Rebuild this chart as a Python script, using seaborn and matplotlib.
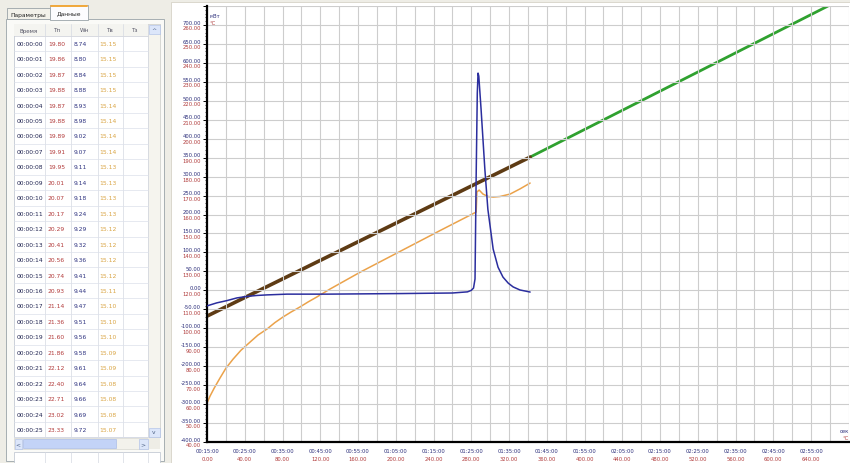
import numpy as np
import pandas as pd
import matplotlib
matplotlib.use("Agg")
import matplotlib.pyplot as plt
from matplotlib.patches import Rectangle
from matplotlib.lines import Line2D
import seaborn as sns

# ---------------- data ----------------
# table (left panel)
row_times = ["00:00:00", "00:00:01", "00:00:02", "00:00:03", "00:00:04", "00:00:05",
             "00:00:06", "00:00:07", "00:00:08", "00:00:09", "00:00:10", "00:00:11",
             "00:00:12", "00:00:13", "00:00:14", "00:00:15", "00:00:16", "00:00:17",
             "00:00:18", "00:00:19", "00:00:20", "00:00:21", "00:00:22", "00:00:23",
             "00:00:24", "00:00:25"]
tp_vals = [19.80, 19.86, 19.87, 19.88, 19.87, 19.88, 19.89, 19.91, 19.95, 20.01, 20.07,
           20.17, 20.29, 20.41, 20.56, 20.74, 20.93, 21.14, 21.36, 21.60, 21.86, 22.12,
           22.40, 22.71, 23.02, 23.33]
wn_vals = [8.74, 8.80, 8.84, 8.88, 8.93, 8.98, 9.02, 9.07, 9.11, 9.14, 9.18, 9.24, 9.29,
           9.32, 9.36, 9.41, 9.44, 9.47, 9.51, 9.56, 9.58, 9.61, 9.64, 9.66, 9.69, 9.72]
tv_vals = [15.15, 15.15, 15.15, 15.15, 15.14, 15.14, 15.14, 15.14, 15.13, 15.13, 15.13,
           15.13, 15.12, 15.12, 15.12, 15.12, 15.11, 15.10, 15.10, 15.10, 15.09, 15.09,
           15.08, 15.08, 15.08, 15.07]
col_headers = ["Время", "Тп", "Wн", "Тв", "Тз"]
tab_labels = ["Параметры", "Данные"]

# chart curves (time in minutes)
blue_t = [15.0, 17.6, 20.3, 22.9, 25.6, 28.2, 30.9, 36.2, 46.8, 66.1, 80.0, 84.0, 85.0,
          85.6, 86.0, 86.3, 86.6, 86.8, 87.0, 87.6, 88.1, 88.6, 89.4, 90.8, 92.1, 93.4,
          94.8, 96.1, 97.9, 100.6]
blue_mw = [-41, -33, -27, -20, -16, -13.5, -12, -10, -10, -8.5, -7, -4, 0,
           6, 30, 300, 520, 573, 565, 478, 399, 320, 214, 109, 61, 35,
           19, 9, 1, -4.5]

orange_t = [15.0, 15.8, 16.9, 18.4, 20.0, 21.9, 24.0, 26.4, 28.5, 30.9, 33.0, 35.1, 37.3,
            39.6, 41.8, 44.1, 47.6, 55.5, 66.1, 76.7, 86.3, 86.5, 87.1, 88.1, 89.4, 90.8,
            92.6, 95.3, 97.9, 100.6]
orange_c = [60.5, 64.2, 68.4, 73.6, 78.9, 83.7, 88.4, 92.7, 96.4, 99.6, 103.0, 105.9,
            108.6, 111.2, 113.9, 116.5, 120.7, 129.5, 140.5, 151.5, 161.3, 171.9, 172.9,
            170.8, 169.5, 169.2, 169.5, 170.8, 173.5, 176.6]

brown_t = [15.0, 100.6]
brown_c = [106.4, 190.3]
green_t = [100.6, 179.5]
green_c = [190.3, 270.0]

# axis ticks and labels
mw_ticks = [700, 650, 600, 550, 500, 450, 400, 350, 300, 250, 200, 150, 100, 50, 0,
            -50, -100, -150, -200, -250, -300, -350, -400]
c_ticks = [260, 250, 240, 230, 220, 210, 200, 190, 180, 170, 160, 150, 140, 130, 120,
           110, 100, 90, 80, 70, 60, 50, 40]
x_ticks = [15, 25, 35, 45, 55, 65, 75, 85, 95, 105, 115, 125, 135, 145, 155, 165, 175]
x_time_labels = ["00:15:00", "00:25:00", "00:35:00", "00:45:00", "00:55:00", "01:05:00",
                 "01:15:00", "01:25:00", "01:35:00", "01:45:00", "01:55:00", "02:05:00",
                 "02:15:00", "02:25:00", "02:35:00", "02:45:00", "02:55:00"]
x_temp_labels = ["0.00", "40.00", "80.00", "120.00", "160.00", "200.00", "240.00",
                 "280.00", "320.00", "360.00", "400.00", "440.00", "480.00", "520.00",
                 "560.00", "600.00", "640.00"]

# ---------------- style ----------------
sns.set_style("white")
plt.rcParams['font.family'] = ['DejaVu Sans']

W, H = 850, 464
fig = plt.figure(figsize=(8.5, 4.64), dpi=100, facecolor="#EEEDE6")


def fx(px):
    return px / W


def fy(py):
    return 1 - py / H


def rect(x0, y0, x1, y1, fc, ec="none", lw=0.6, z=0):
    r = Rectangle((fx(x0), fy(y1)), (x1 - x0) / W, (y1 - y0) / H,
                  transform=fig.transFigure, facecolor=fc, edgecolor=ec, lw=lw, zorder=z)
    fig.add_artist(r)
    return r


def hline(x0, x1, y, color, lw=0.5, z=1):
    fig.add_artist(Line2D([fx(x0), fx(x1)], [fy(y), fy(y)], transform=fig.transFigure,
                          color=color, lw=lw, zorder=z))


def vline(x, y0, y1, color, lw=0.5, z=1):
    fig.add_artist(Line2D([fx(x), fx(x)], [fy(y0), fy(y1)], transform=fig.transFigure,
                          color=color, lw=lw, zorder=z))


# chart white area
rect(171, 3, 851, 465, "white", ec="#D6D3C8", lw=0.6, z=0)

# ---------------- left panel ----------------
rect(6, 20, 164, 462, "#FAFAF7", ec="#9AA3A8", lw=0.6, z=0.5)
# tabs
rect(7, 9, 50, 20, "#F2F1EA", ec="#9AA3A8", lw=0.6, z=0.6)
rect(50, 6, 88, 21, "#FCFCFE", ec="#9AA3A8", lw=0.6, z=0.7)
hline(51, 87, 6.5, "#F1A83A", lw=1.4, z=0.8)
fig.text(fx(28.5), fy(15), tab_labels[0], fontsize=4.3, ha="center", va="center",
         color="#222222", zorder=2)
fig.text(fx(69), fy(14), tab_labels[1], fontsize=4.3, ha="center", va="center",
         color="#222222", zorder=2)

# table body
tab_x0, tab_x1 = 14, 160
col_lines = [45, 71, 98, 123, 148]
hdr_y0, hdr_y1 = 25, 37
row_h = 15.45
row_c0 = 44.3
rect(tab_x0, hdr_y0, tab_x1, 438, "white", ec="#B9C0CC", lw=0.5, z=0.8)
rect(tab_x0, hdr_y0, 148, hdr_y1, "#F4F4F0", ec="none", z=0.85)
hline(tab_x0, 148, hdr_y1, "#C9CCD4", lw=0.5)
for cx in col_lines:
    vline(cx, hdr_y0, 438, "#D5D9E2", lw=0.5)
for i in range(len(row_times) + 1):
    yb = row_c0 + i * row_h + 0.1
    if yb < 438:
        hline(tab_x0, 148, yb + row_h / 2, "#DCE0EA", lw=0.5)

hdr_x = [29, 58, 84, 110, 135]
for hx, hs in zip(hdr_x, col_headers):
    fig.text(fx(hx), fy(31), hs, fontsize=4.1, ha="center", va="center",
             color="#555566", zorder=2)

for i, (tm, tp, wn, tv) in enumerate(zip(row_times, tp_vals, wn_vals, tv_vals)):
    yy = row_c0 + i * row_h
    fig.text(fx(16.5), fy(yy), tm, fontsize=4.3, ha="left", va="center",
             color="#1F2350", zorder=2)
    fig.text(fx(48), fy(yy), f"{tp:.2f}", fontsize=4.3, ha="left", va="center",
             color="#B23A3A", zorder=2)
    fig.text(fx(73.5), fy(yy), f"{wn:.2f}", fontsize=4.3, ha="left", va="center",
             color="#2F3380", zorder=2)
    fig.text(fx(99.5), fy(yy), f"{tv:.2f}", fontsize=4.3, ha="left", va="center",
             color="#D9A443", zorder=2)

# vertical scrollbar
rect(148, hdr_y0, 160, 438, "#F5F4EE", ec="#D0D0C8", lw=0.4, z=0.9)
rect(148.5, 25.5, 159.5, 35, "#DCE6FA", ec="#A9BCE6", lw=0.4, z=0.95)
fig.text(fx(154), fy(30.2), "^", fontsize=4.5, ha="center", va="center",
         color="#4D6185", zorder=2)
rect(148.5, 428.5, 159.5, 438, "#DCE6FA", ec="#A9BCE6", lw=0.4, z=0.95)
fig.text(fx(154), fy(433), "v", fontsize=4.3, ha="center", va="center",
         color="#4D6185", zorder=2)
# horizontal scrollbar
rect(tab_x0, 439, 148, 450, "#F3F2EC", ec="#D0D0C8", lw=0.4, z=0.9)
rect(tab_x0 + 0.5, 439.5, 22, 449.5, "#DCE6FA", ec="#A9BCE6", lw=0.4, z=0.95)
rect(139, 439.5, 147.5, 449.5, "#DCE6FA", ec="#A9BCE6", lw=0.4, z=0.95)
rect(23, 440, 116, 449, "#C3D3F7", ec="#9FB5E6", lw=0.4, z=0.95)
fig.text(fx(18), fy(444.5), "<", fontsize=4.3, ha="center", va="center",
         color="#4D6185", zorder=2)
fig.text(fx(143.3), fy(444.5), ">", fontsize=4.3, ha="center", va="center",
         color="#4D6185", zorder=2)
rect(148, 439, 160, 450, "#EEEDE6", ec="none", z=0.9)
# bottom strip
rect(tab_x0, 453, tab_x1, 465, "white", ec="#B9C0CC", lw=0.5, z=0.8)
for cx in col_lines:
    vline(cx, 453, 465, "#D5D9E2", lw=0.5)

# ---------------- chart ----------------
ax_l, ax_r, ax_t, ax_b = 207, 849, 7, 443
ax = fig.add_axes([fx(ax_l), fy(ax_b), (ax_r - ax_l) / W, (ax_b - ax_t) / H])
ax.set_facecolor("white")
ax.set_xlim(15, 15 + (ax_r - ax_l) / 3.775)
ax.set_ylim(-400, 750)

ax2 = ax.twinx()
ax2.set_ylim(40, 270)
ax2.set_yticks([])
for s in ax2.spines.values():
    s.set_visible(False)

ax.set_xticks(np.arange(15, 186, 5))
ax.set_xticks(np.arange(15, 186, 1), minor=True)
ax.set_yticks(np.arange(-400, 751, 50))
ax.set_yticks(np.arange(-400, 751, 10), minor=True)
ax.set_xticklabels([])
ax.set_yticklabels([])
ax.tick_params(axis="both", which="major", length=3, width=0.7, color="black",
               direction="out")
ax.tick_params(axis="both", which="minor", length=1.6, width=0.5, color="black",
               direction="out")
ax.grid(True, which="major", color="#CDCDCD", lw=0.8)
ax.set_axisbelow(True)
for side in ["top", "right"]:
    ax.spines[side].set_visible(False)
for side in ["left", "bottom"]:
    ax.spines[side].set_linewidth(1.6)
    ax.spines[side].set_color("black")

# curves
df_blue = pd.DataFrame({"t": blue_t, "v": blue_mw})
df_orange = pd.DataFrame({"t": orange_t, "v": orange_c})
df_brown = pd.DataFrame({"t": brown_t, "v": brown_c})
df_green = pd.DataFrame({"t": green_t, "v": green_c})

sns.lineplot(data=df_green, x="t", y="v", ax=ax2, color="#2FA12F", lw=2.0,
             sort=False, estimator=None)
sns.lineplot(data=df_brown, x="t", y="v", ax=ax2, color="#5E3B14", lw=2.6,
             sort=False, estimator=None)
sns.lineplot(data=df_orange, x="t", y="v", ax=ax2, color="#EBA24A", lw=1.1,
             sort=False, estimator=None)
sns.lineplot(data=df_blue, x="t", y="v", ax=ax, color="#2B2E9E", lw=1.1,
             sort=False, estimator=None, zorder=5)
ax.set_zorder(ax2.get_zorder() + 1)
ax.patch.set_visible(False)
ax.set_xlabel("")
ax.set_ylabel("")
ax2.set_xlabel("")
ax2.set_ylabel("")

# y tick labels: mW (blue) above, °C (red) below
for v in mw_ticks:
    ax.annotate(f"{v:.2f}", xy=(0, v), xycoords=("axes fraction", "data"),
                xytext=(-4.2, 0.2), textcoords="offset points", ha="right",
                va="bottom", fontsize=3.8, color="#2B2E7A", annotation_clip=False)
for c in c_ticks:
    ax2.annotate(f"{c:.2f}", xy=(0, c), xycoords=("axes fraction", "data"),
                 xytext=(-4.2, -0.3), textcoords="offset points", ha="right",
                 va="top", fontsize=3.8, color="#B03A3A", annotation_clip=False)

# x tick labels: time (blue) above, °C (red) below
for xt, lt, lc in zip(x_ticks, x_time_labels, x_temp_labels):
    ax.annotate(lt, xy=(xt, 0), xycoords=("data", "axes fraction"),
                xytext=(0, -4.6), textcoords="offset points", ha="center", va="top",
                fontsize=3.8, color="#2B2E7A", annotation_clip=False)
    ax.annotate(lc, xy=(xt, 0), xycoords=("data", "axes fraction"),
                xytext=(0, -10.2), textcoords="offset points", ha="center", va="top",
                fontsize=3.8, color="#B03A3A", annotation_clip=False)

# unit labels
fig.text(fx(210), fy(17), "мВт", fontsize=3.8, ha="left", va="center", color="#2B2E7A")
fig.text(fx(210), fy(23.5), "°C", fontsize=3.8, ha="left", va="center", color="#B03A3A")
fig.text(fx(849), fy(432), "сек", fontsize=3.8, ha="right", va="center", color="#2B2E7A")
fig.text(fx(849), fy(438.5), "°C", fontsize=3.8, ha="right", va="center", color="#B03A3A")

fig.savefig("out.png", dpi=100, facecolor=fig.get_facecolor())
